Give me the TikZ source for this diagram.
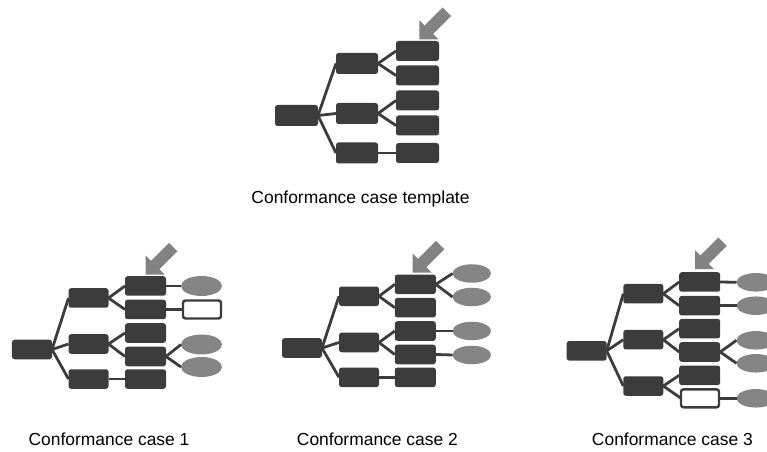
\documentclass[tikz,border=0pt]{standalone}
\usepackage{fontspec}
\setmainfont{Liberation Sans}
\usetikzlibrary{shapes.geometric}
\definecolor{boxfill}{HTML}{3C3C3C}
\definecolor{ovalfill}{HTML}{858585}
\definecolor{pointerfill}{HTML}{828282}
\tikzset{
  blk/.style={fill=boxfill, rounded corners=2.5bp, inner sep=0pt, outer sep=0pt},
  lv0/.style={blk, minimum width=40bp, minimum height=19.5bp},
  lv1/.style={blk, minimum width=40bp, minimum height=19.5bp},
  lv2/.style={blk, minimum width=41bp, minimum height=19.5bp},
  hollow/.style={draw=boxfill, fill=white, line width=2.4bp, rounded corners=2.5bp,
    inner sep=0pt, outer sep=0pt, minimum width=38bp, minimum height=18bp},
  oval/.style={ellipse, fill=ovalfill, inner sep=0pt, outer sep=0pt,
    minimum width=40bp, minimum height=19bp},
  link/.style={draw=boxfill, line width=2.8bp},
  caption/.style={font=\fontsize{17.5}{21}\selectfont, anchor=base, inner sep=0pt},
  pointer/.pic={
    \fill[pointerfill] (0,0) -- (0,-19) -- (5.3,-13.7) -- (23.3,-31.7)
      -- (31.7,-23.3) -- (13.7,-5.3) -- (19,0) -- cycle;
  }
}
\begin{document}
\begin{tikzpicture}[x=1bp, y=-1bp]
\useasboundingbox (0,0) rectangle (767,452);
\clip (0,0) rectangle (767,452);

% ---------- template ----------
\begin{scope}[lv0/.append style={minimum width=43bp, minimum height=21bp},
              lv1/.append style={minimum width=42bp, minimum height=21bp},
              lv2/.append style={minimum width=43bp, minimum height=20bp}]
  \node[lv0] (t0) at (296.5,115.5) {};
  \node[lv1] (ta) at (357,63.5) {};
  \node[lv1] (tb) at (357,113.5) {};
  \node[lv1] (tc) at (357,153) {};
  \node[lv2] (t1) at (417.5,51) {};
  \node[lv2] (t2) at (417.5,75.5) {};
  \node[lv2] (t3) at (417.5,100.5) {};
  \node[lv2] (t4) at (417.5,125.5) {};
  \node[lv2] (t5) at (417.5,153) {};
  \draw[link] (t0.east) -- (ta.west);
  \draw[link] (t0.east) -- (tb.west);
  \draw[link] (t0.east) -- (tc.west);
  \draw[link] (ta.east) -- (t1.west);
  \draw[link] (ta.east) -- (t2.west);
  \draw[link] (tb.east) -- (t3.west);
  \draw[link] (tb.east) -- (t4.west);
  \draw[link] (tc.east) -- (t5.west);
  \pic at ([shift={(1.8,-1.7)}]t1.north) {pointer};
  \node[caption] (tcap) at (360.5,203.5) {Conformance case template};
\end{scope}

% ---------- case 1 ----------
\begin{scope}[oval/.append style={minimum width=41bp, minimum height=20bp}]
  \node[lv0] (p0) at (32,349.5) {};
  \node[lv1] (pa) at (88.5,298) {};
  \node[lv1] (pb) at (88.5,344) {};
  \node[lv1] (pc) at (88.5,379) {};
  \node[lv2] (p1) at (145.5,286) {};
  \node[lv2] (p2) at (145.5,309.5) {};
  \node[lv2] (p3) at (145.5,333) {};
  \node[lv2] (p4) at (145.5,356.5) {};
  \node[lv2] (p5) at (145.5,379) {};
  \node[oval] (pe1) at (201.5,286) {};
  \node[hollow] (pw) at (202,309.5) {};
  \node[oval] (pe2) at (201.5,344.5) {};
  \node[oval] (pe3) at (201.5,367) {};
  \draw[link] (p0.east) -- (pa.west);
  \draw[link] (p0.east) -- (pb.west);
  \draw[link] (p0.east) -- (pc.west);
  \draw[link] (pa.east) -- (p1.west);
  \draw[link] (pa.east) -- (p2.west);
  \draw[link] (pb.east) -- (p3.west);
  \draw[link] (pb.east) -- (p4.west);
  \draw[link] (pc.east) -- (p5.west);
  \draw[link] (p1.east) -- (pe1.west);
  \draw[link] (p2.east) -- (pw.west);
  \draw[link] (p4.east) -- (pe2.west);
  \draw[link] (p4.east) -- (pe3.west);
  \pic at ([shift={(0.2,-1.7)}]p1.north) {pointer};
  \node[caption] (pcap) at (109,445) {Conformance case 1};
\end{scope}

% ---------- case 2 ----------
\begin{scope}[oval/.append style={minimum width=38.5bp, minimum height=18.5bp}]
  \node[lv0] (q0) at (302,348) {};
  \node[lv1] (qa) at (359,296.3) {};
  \node[lv1] (qb) at (359,342.5) {};
  \node[lv1] (qc) at (359,377.3) {};
  \node[lv2] (q1) at (415.3,284.3) {};
  \node[lv2] (q2) at (415.3,307.7) {};
  \node[lv2] (q3) at (415.3,331) {};
  \node[lv2] (q4) at (415.3,354.5) {};
  \node[lv2] (q5) at (415.3,377.3) {};
  \node[oval] (qe1) at (471.8,273.5) {};
  \node[oval] (qe2) at (471.8,297) {};
  \node[oval] (qe3) at (471.8,331) {};
  \node[oval] (qe4) at (471.8,355) {};
  \draw[link] (q0.east) -- (qa.west);
  \draw[link] (q0.east) -- (qb.west);
  \draw[link] (q0.east) -- (qc.west);
  \draw[link] (qa.east) -- (q1.west);
  \draw[link] (qa.east) -- (q2.west);
  \draw[link] (qb.east) -- (q3.west);
  \draw[link] (qb.east) -- (q4.west);
  \draw[link] (qc.east) -- (q5.west);
  \draw[link] (q1.east) -- (qe1.west);
  \draw[link] (q1.east) -- (qe2.west);
  \draw[link] (q3.east) -- (qe3.west);
  \draw[link] (q4.east) -- (qe4.west);
  \pic at ([shift={(-2.6,-2)}]q1.north) {pointer};
  \node[caption] (qcap) at (377.4,445) {Conformance case 2};
\end{scope}

% ---------- case 3 ----------
\begin{scope}[oval/.append style={minimum width=39bp, minimum height=18.5bp}]
  \node[lv0] (s0) at (586.7,350.8) {};
  \node[lv1] (sa) at (643.3,293.7) {};
  \node[lv1] (sb) at (643.3,339.7) {};
  \node[lv1] (sc) at (643.3,386) {};
  \node[lv2] (s1) at (699.7,282) {};
  \node[lv2] (s2) at (699.7,305.7) {};
  \node[lv2] (s3) at (699.7,328.7) {};
  \node[lv2] (s4) at (699.7,352) {};
  \node[lv2] (s5) at (699.7,375.3) {};
  \node[hollow] (sw) at (700,398.3) {};
  \node[oval] (se1) at (756,282.3) {};
  \node[oval] (se2) at (756,305.7) {};
  \node[oval] (se3) at (756,340.3) {};
  \node[oval] (se4) at (756,363.3) {};
  \node[oval] (se5) at (756,398.3) {};
  \draw[link] (s0.east) -- (sa.west);
  \draw[link] (s0.east) -- (sb.west);
  \draw[link] (s0.east) -- (sc.west);
  \draw[link] (sa.east) -- (s1.west);
  \draw[link] (sa.east) -- (s2.west);
  \draw[link] (sb.east) -- (s3.west);
  \draw[link] (sb.east) -- (s4.west);
  \draw[link] (sc.east) -- (s5.west);
  \draw[link] (sc.east) -- (sw.west);
  \draw[link] (s1.east) -- (se1.west);
  \draw[link] (s2.east) -- (se2.west);
  \draw[link] (s4.east) -- (se3.west);
  \draw[link] (s4.east) -- (se4.west);
  \draw[link] (sw.east) -- (se5.west);
  \pic at ([shift={(-4.7,-3)}]s1.north) {pointer};
  \node[caption] (scap) at (672.4,445) {Conformance case 3};
\end{scope}
\end{tikzpicture}
\end{document}
